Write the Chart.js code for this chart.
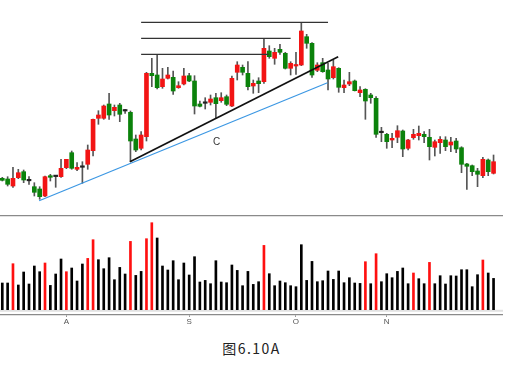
<!DOCTYPE html>
<html>
<head>
<meta charset="utf-8">
<script src="https://cdn.jsdelivr.net/npm/chart.js@4.4.1/dist/chart.umd.min.js"></script>
<style>
  body { margin: 0; background: #fff; width: 531px; height: 368px; overflow: hidden; position: relative; }
  #price { position: absolute; left: 0; top: 0; }
  #volume { position: absolute; left: 0; top: 215px; }
  .note { position: absolute; font-family: "Liberation Sans", Arial, sans-serif; color: #333; }
  #label-c { left: 213px; top: 136px; font-size: 10px; }
  #caption { left: 0; width: 503px; top: 338px; text-align: center; font-family: "Noto Sans CJK SC", sans-serif; font-size: 14px; letter-spacing: 1.5px; color: #222; }
</style>
</head>
<body>
<canvas id="price" width="503" height="212"></canvas>
<canvas id="volume" width="503" height="114"></canvas>
<div class="note" id="label-c">C</div>
<div class="note" id="caption">图6.10A</div>
<script>
// daily bars, Jul..Dec (price units)
const openP = [71.7, 71, 64, 72.3, 78.3, 69.2, 63.3, 61, 54, 74.3,
  73.4, 73.3, 82.3, 97.3, 80.7, 82.7, 85.7, 99.3, 131.7, 131.7,
  146, 139.3, 145, 139, 137.7, 111, 101.7, 113.3, 176.7, 175,
  163.3, 171.7, 172.7, 162.3, 166, 174.3, 169, 146, 146.7, 147.7,
  152.3, 149.3, 153.3, 144, 177.7, 182.7, 176.7, 164, 169, 168.3,
  199, 191.7, 200.7, 196.7, 181.7, 184, 185, 213.3, 206.7, 179.7,
  187.3, 180, 172.3, 181.7, 162.3, 166, 169, 157.3, 160.7, 155,
  151.7, 117.3, 115.7, 110, 112.7, 119, 101.7, 112.3, 114.3, 115.7,
  112.7, 102.7, 107.3, 110, 105, 109, 102.3, 86, 84.3, 79,
  74.3, 90, 76.7];
const highP = [72.7, 73.3, 82.7, 80.7, 80, 73.3, 67.3, 63.3, 74, 75.7,
  74, 90.7, 90.7, 99, 87.3, 88.3, 105, 131, 139.3, 145,
  156.7, 145, 146.7, 140.7, 139, 115, 118.3, 177.7, 191.7, 195.7,
  181.7, 182.7, 179, 168.3, 181.7, 176.7, 174.3, 149, 152.3, 155,
  156.7, 157.3, 155, 174, 188.3, 185, 188.3, 170, 172.3, 211.7,
  204.3, 201.7, 205.7, 197.7, 188.3, 197.7, 227.7, 215.7, 207.3, 187.3,
  191.7, 186.7, 190, 182.3, 170, 177.7, 170, 163.3, 161.3, 156.7,
  153.3, 122.7, 116.7, 116.7, 124.3, 120, 110.7, 120.7, 124, 118.3,
  120.7, 110, 113.3, 113.3, 112.7, 111.7, 103.3, 86.7, 85, 81.7,
  92.7, 91, 95];
const lowP = [69, 64, 62.7, 71.3, 67.3, 65.7, 54, 50.7, 53.3, 69,
  62.7, 72.7, 81.3, 80.7, 79.3, 66.7, 80.7, 94, 125.7, 130.7,
  130.7, 134, 128.3, 136.7, 88.3, 98.3, 100, 109, 163.3, 161,
  161.7, 171, 155.7, 161.7, 165, 168.3, 136, 143, 141, 145,
  131.7, 147.7, 144.3, 143.3, 170, 175, 160, 156.7, 157.3, 166.7,
  191.7, 185.7, 195.7, 181, 175, 175.7, 184.3, 201.7, 172.7, 178.3,
  177.7, 160, 171, 157.7, 157.3, 164.3, 159, 153.3, 130.7, 146.7,
  112.7, 108.3, 101.7, 102.3, 107.3, 93.3, 100, 110.7, 110, 107.3,
  90, 94, 96.7, 99.3, 98.3, 97.3, 77.3, 60.7, 74.3, 63.3,
  72.3, 74.3, 76];
const closeP = [69.7, 65.7, 71.7, 77.3, 70, 69.2, 57.7, 53.3, 73.3, 72.7,
  73.4, 81.7, 90.7, 81.7, 82.7, 82.7, 100, 130.7, 135, 144,
  135, 142.7, 135.7, 139, 109, 100, 115, 176.7, 174.3, 162.3,
  171, 175, 159, 164.3, 174, 169, 144, 143.7, 146.7, 151,
  146.3, 152.3, 145.7, 171.7, 185, 177.7, 163.3, 166.7, 166.3, 201.7,
  193.3, 197.7, 197.7, 181.7, 186.7, 185, 219, 206.7, 175, 185,
  178.3, 171, 183.3, 162.7, 165, 168.3, 159.3, 160, 149, 152.3,
  115.7, 117.3, 108.3, 111.7, 119.3, 101, 110, 115.7, 116.7, 113.3,
  103.3, 108.3, 110.7, 103.3, 108, 101, 85.7, 83.7, 78.3, 75.7,
  90.7, 78.3, 88.3];
const volume = [26.7, 26.7, 46, 24.7, 37.7, 25.7, 43.7, 38, 46.7, 24.3,
  35.7, 50.7, 38, 41.7, 28.7, 45.7, 51.3, 70, 50, 41,
  52, 30, 42.3, 35.7, 68.3, 34.3, 38.3, 71, 87, 71.7,
  43.7, 39.7, 49, 30, 46.7, 34.7, 53, 27.7, 29.3, 26,
  49, 27.7, 27, 44.7, 39.3, 24, 38.3, 25.3, 28, 64.3,
  36, 24, 28.7, 27, 24, 23, 65, 29.3, 48.3, 28,
  29, 38.7, 30.3, 38.7, 27, 32, 26.7, 26.3, 48, 26,
  56, 28, 36, 32, 38.3, 41.7, 26, 36.7, 31, 26,
  47.3, 26, 34, 25.7, 34, 33.7, 40, 40, 23, 35,
  49.7, 36.7, 31.3];
const volumeRedDays = [2, 8, 12, 16, 17, 24, 27, 28, 49, 68, 70, 77, 80, 90];

const monthTickDays = [12, 35, 55, 72];
const monthLabels = ['A', 'S', 'O', 'N'];

// resistance lines at the three highs, and the two up trendlines
const resistLevels = [195.7, 211.7, 227.7];
const resistStart = 26;
const resistEnd = [49.9, 54, 61];
const trendBlackX = [23.9, 62.9];
const trendBlackY = [88.3, 193.3];
const trendBlueX = [6.9, 60.9];
const trendBlueY = [49.3, 167.3];

const xMin = -0.43;
const xMax = 93.77;
const RED = '#f21414';
const GREEN = '#0b820b';

const days = openP.map((_, i) => i);

const bodyColors = days.map((i) => {
  if (closeP[i] > openP[i]) return RED;
  if (closeP[i] < openP[i]) return GREEN;
  return '#222';
});

const lineSets = resistLevels.map((lvl, k) => ({
  type: 'line',
  data: [{ x: resistStart, y: lvl }, { x: resistEnd[k], y: lvl }],
  borderColor: '#333',
  borderWidth: 1.3,
  pointRadius: 0,
  order: 1,
}));

lineSets.push({
  type: 'line',
  data: trendBlackX.map((x, k) => ({ x: x, y: trendBlackY[k] })),
  borderColor: '#111',
  borderWidth: 1.7,
  pointRadius: 0,
  order: 1,
});
lineSets.push({
  type: 'line',
  data: trendBlueX.map((x, k) => ({ x: x, y: trendBlueY[k] })),
  borderColor: '#3b97e3',
  borderWidth: 1.2,
  pointRadius: 0,
  order: 1,
});

new Chart(document.getElementById('price'), {
  type: 'bar',
  data: {
    datasets: [
      {
        data: days.map((i) => ({ x: i, y: [lowP[i], highP[i]] })),
        backgroundColor: '#555',
        barThickness: 1,
        grouped: false,
        order: 3,
      },
      {
        data: days.map((i) => ({ x: i, y: [openP[i], closeP[i]] })),
        backgroundColor: bodyColors,
        barThickness: 4,
        minBarLength: 1.5,
        grouped: false,
        order: 2,
      },
      ...lineSets,
    ],
  },
  options: {
    responsive: false,
    animation: false,
    layout: { padding: 0 },
    plugins: { legend: { display: false }, tooltip: { enabled: false } },
    scales: {
      x: { type: 'linear', min: xMin, max: xMax, offset: false, display: false },
      y: { min: 38, max: 250, display: false },
    },
  },
});

// top border and faint baseline of the volume panel
const panelLines = {
  id: 'panelLines',
  beforeDatasetsDraw(chart) {
    const { ctx, chartArea } = chart;
    const y0 = chart.scales.y.getPixelForValue(0);
    ctx.save();
    ctx.strokeStyle = '#e2e2e2';
    ctx.lineWidth = 2;
    ctx.beginPath();
    ctx.moveTo(chartArea.left, y0 + 1);
    ctx.lineTo(chartArea.right, y0 + 1);
    ctx.stroke();
    ctx.strokeStyle = '#8a8a8a';
    ctx.lineWidth = 1.3;
    ctx.beginPath();
    ctx.moveTo(chartArea.left, chartArea.top + 0.5);
    ctx.lineTo(chartArea.right, chartArea.top + 0.5);
    ctx.stroke();
    ctx.restore();
  },
};

new Chart(document.getElementById('volume'), {
  type: 'bar',
  data: {
    datasets: [
      {
        data: days.map((i) => ({ x: i, y: volume[i] })),
        backgroundColor: days.map((i) => (volumeRedDays.includes(i) ? '#ff1010' : '#000')),
        barThickness: 2,
      },
    ],
  },
  options: {
    responsive: false,
    animation: false,
    layout: { padding: 0 },
    plugins: { legend: { display: false }, tooltip: { enabled: false } },
    scales: {
      x: {
        type: 'linear',
        min: xMin,
        max: xMax,
        offset: false,
        afterBuildTicks: (scale) => {
          scale.ticks = monthTickDays.map((v) => ({ value: v }));
        },
        afterFit: (scale) => {
          scale.height = 14;
        },
        ticks: {
          autoSkip: false,
          maxRotation: 0,
          padding: 0,
          color: '#555',
          font: { family: 'Liberation Sans', size: 8 },
          callback: (v, idx) => monthLabels[idx],
        },
        grid: { offset: false, drawOnChartArea: false, tickLength: 2, color: '#999' },
        border: { color: '#8a8a8a', width: 1.3 },
      },
      y: { min: -5.3, max: 94.7, display: false },
    },
  },
  plugins: [panelLines],
});
</script>
</body>
</html>
